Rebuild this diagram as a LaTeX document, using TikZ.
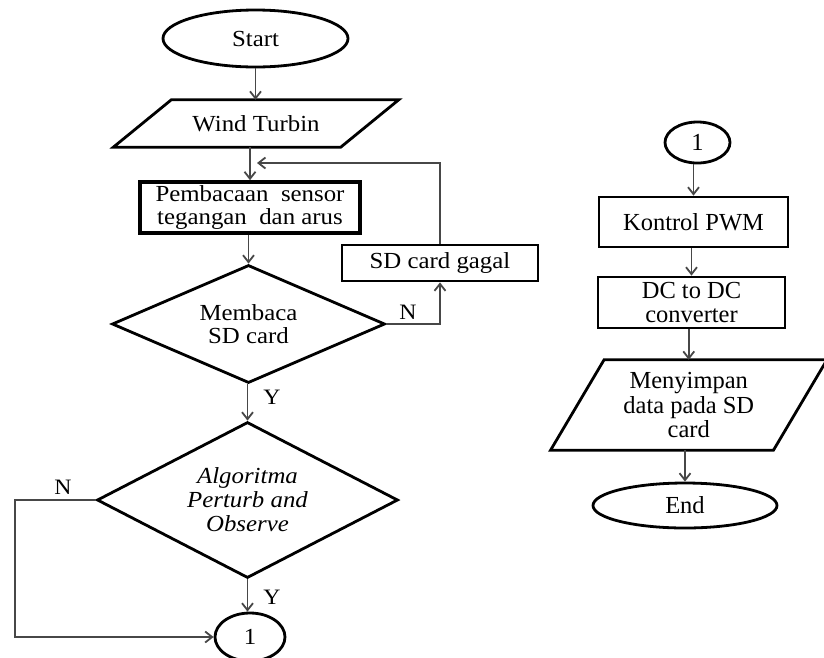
\documentclass[tikz,border=0pt]{standalone}
\usepackage{fontspec}
\setmainfont{Liberation Serif}
\newfontfamily\widefont[FakeStretch=1.08]{Liberation Serif}
\usetikzlibrary{shapes.geometric,arrows.meta,calc}
\begin{document}
\begin{tikzpicture}[x=1pt,y=-1pt,
  shp/.style={draw=black,line width=2.8pt,inner sep=0pt,align=center},
  lt/.style={font=\widefont\fontsize{23}{23}\selectfont},
  rt/.style={font=\fontsize{24.5}{24.5}\selectfont},
  box/.style={shp,rectangle},
  oval/.style={shp,ellipse},
  dia/.style={shp,diamond},
  para/.style={rectangle,inner sep=0pt,align=center},
  pline/.style={draw=black,line width=2.8pt,line join=miter},
  arr/.style={draw=black!72,line width=1.8pt,-{Straight Barb[length=7pt,width=11pt]}},
  lbl/.style={font=\widefont\fontsize{22}{22}\selectfont}]
\useasboundingbox (0,0) rectangle (824,657);
\fill[white] (0,0) rectangle (824,657);

% left column
\node[oval,lt,minimum width=185pt,minimum height=57pt] (start) at (255.5,38.5) {Start};
\node[para,lt,minimum width=227pt,minimum height=47pt] (wt) at (256,123.5) {Wind Turbin};
\draw[pline] ($(wt.north west)+(29,0)$) -- ($(wt.north east)+(29,0)$) -- ($(wt.south east)+(-29,0)$) -- ($(wt.south west)+(-29,0)$) -- cycle;
\node[box,lt,line width=3.6pt,minimum width=220pt,minimum height=51pt] (pb) at (250,207.5) {Pembacaan\ \ sensor\\tegangan\ \ dan arus};
\node[box,lt,minimum width=196pt,minimum height=36pt] (sd) at (440,263) {SD card gagal};
\node[dia,lt,minimum width=273pt,minimum height=118pt,aspect=2.3] (d1) at (248.5,324) {Membaca\\SD card};
\node[dia,lt,font=\widefont\fontsize{23}{24}\selectfont\itshape,minimum width=301pt,minimum height=156pt,aspect=1.9] (d2) at (247.5,500) {Algoritma\\Perturb and\\Observe};
\node[oval,lt,minimum width=70pt,minimum height=48pt] (c1b) at (250,637) {1};

\coordinate (fb) at (257,163);
\coordinate (nl) at (15,500);

\draw[arr] (start.south) -- (start.south |- wt.north);
\draw[arr] (pb.north |- wt.south) -- (pb.north);
\draw[arr] (d1.north |- pb.south) -- (d1.north);
\draw[arr] (d2.north |- d1.south) -- (d2.north);
\draw[arr] (d2.south) -- (d2.south |- c1b.north);
\draw[arr] (d1.east) -| (sd.south);
\draw[arr] (sd.north) |- (fb);
\draw[arr] (d2.west) -- (nl) |- (c1b.west);

\node[lbl] (n1) at (408,312) {N};
\node[lbl] (y1) at (272,397) {Y};
\node[lbl] (y2) at (272,597) {Y};
\node[lbl] (n2) at (63,487) {N};

% right column
\node[oval,rt,minimum width=65pt,minimum height=41pt] (c1r) at (697.5,142.5) {1};
\node[box,rt,minimum width=189pt,minimum height=50pt] (kp) at (693.5,222) {Kontrol PWM};
\node[box,rt,minimum width=187pt,minimum height=51pt] (dc) at (691.5,302.5) {DC to DC\\converter};
\node[para,rt,minimum width=222.5pt,minimum height=90pt] (ms) at (688.75,405) {Menyimpan\\data pada SD\\card};
\draw[pline] ($(ms.north west)+(26.75,0)$) -- ($(ms.north east)+(26.75,0)$) -- ($(ms.south east)+(-26.75,0)$) -- ($(ms.south west)+(-26.75,0)$) -- cycle;
\node[oval,rt,minimum width=184pt,minimum height=45pt] (end) at (685,505.5) {End};

\draw[arr] (kp.north |- c1r.south) -- (kp.north);
\draw[arr] (dc.north |- kp.south) -- (dc.north);
\draw[arr] (ms.north |- dc.south) -- (ms.north);
\draw[arr] (end.north |- ms.south) -- (end.north);
\end{tikzpicture}
\end{document}
